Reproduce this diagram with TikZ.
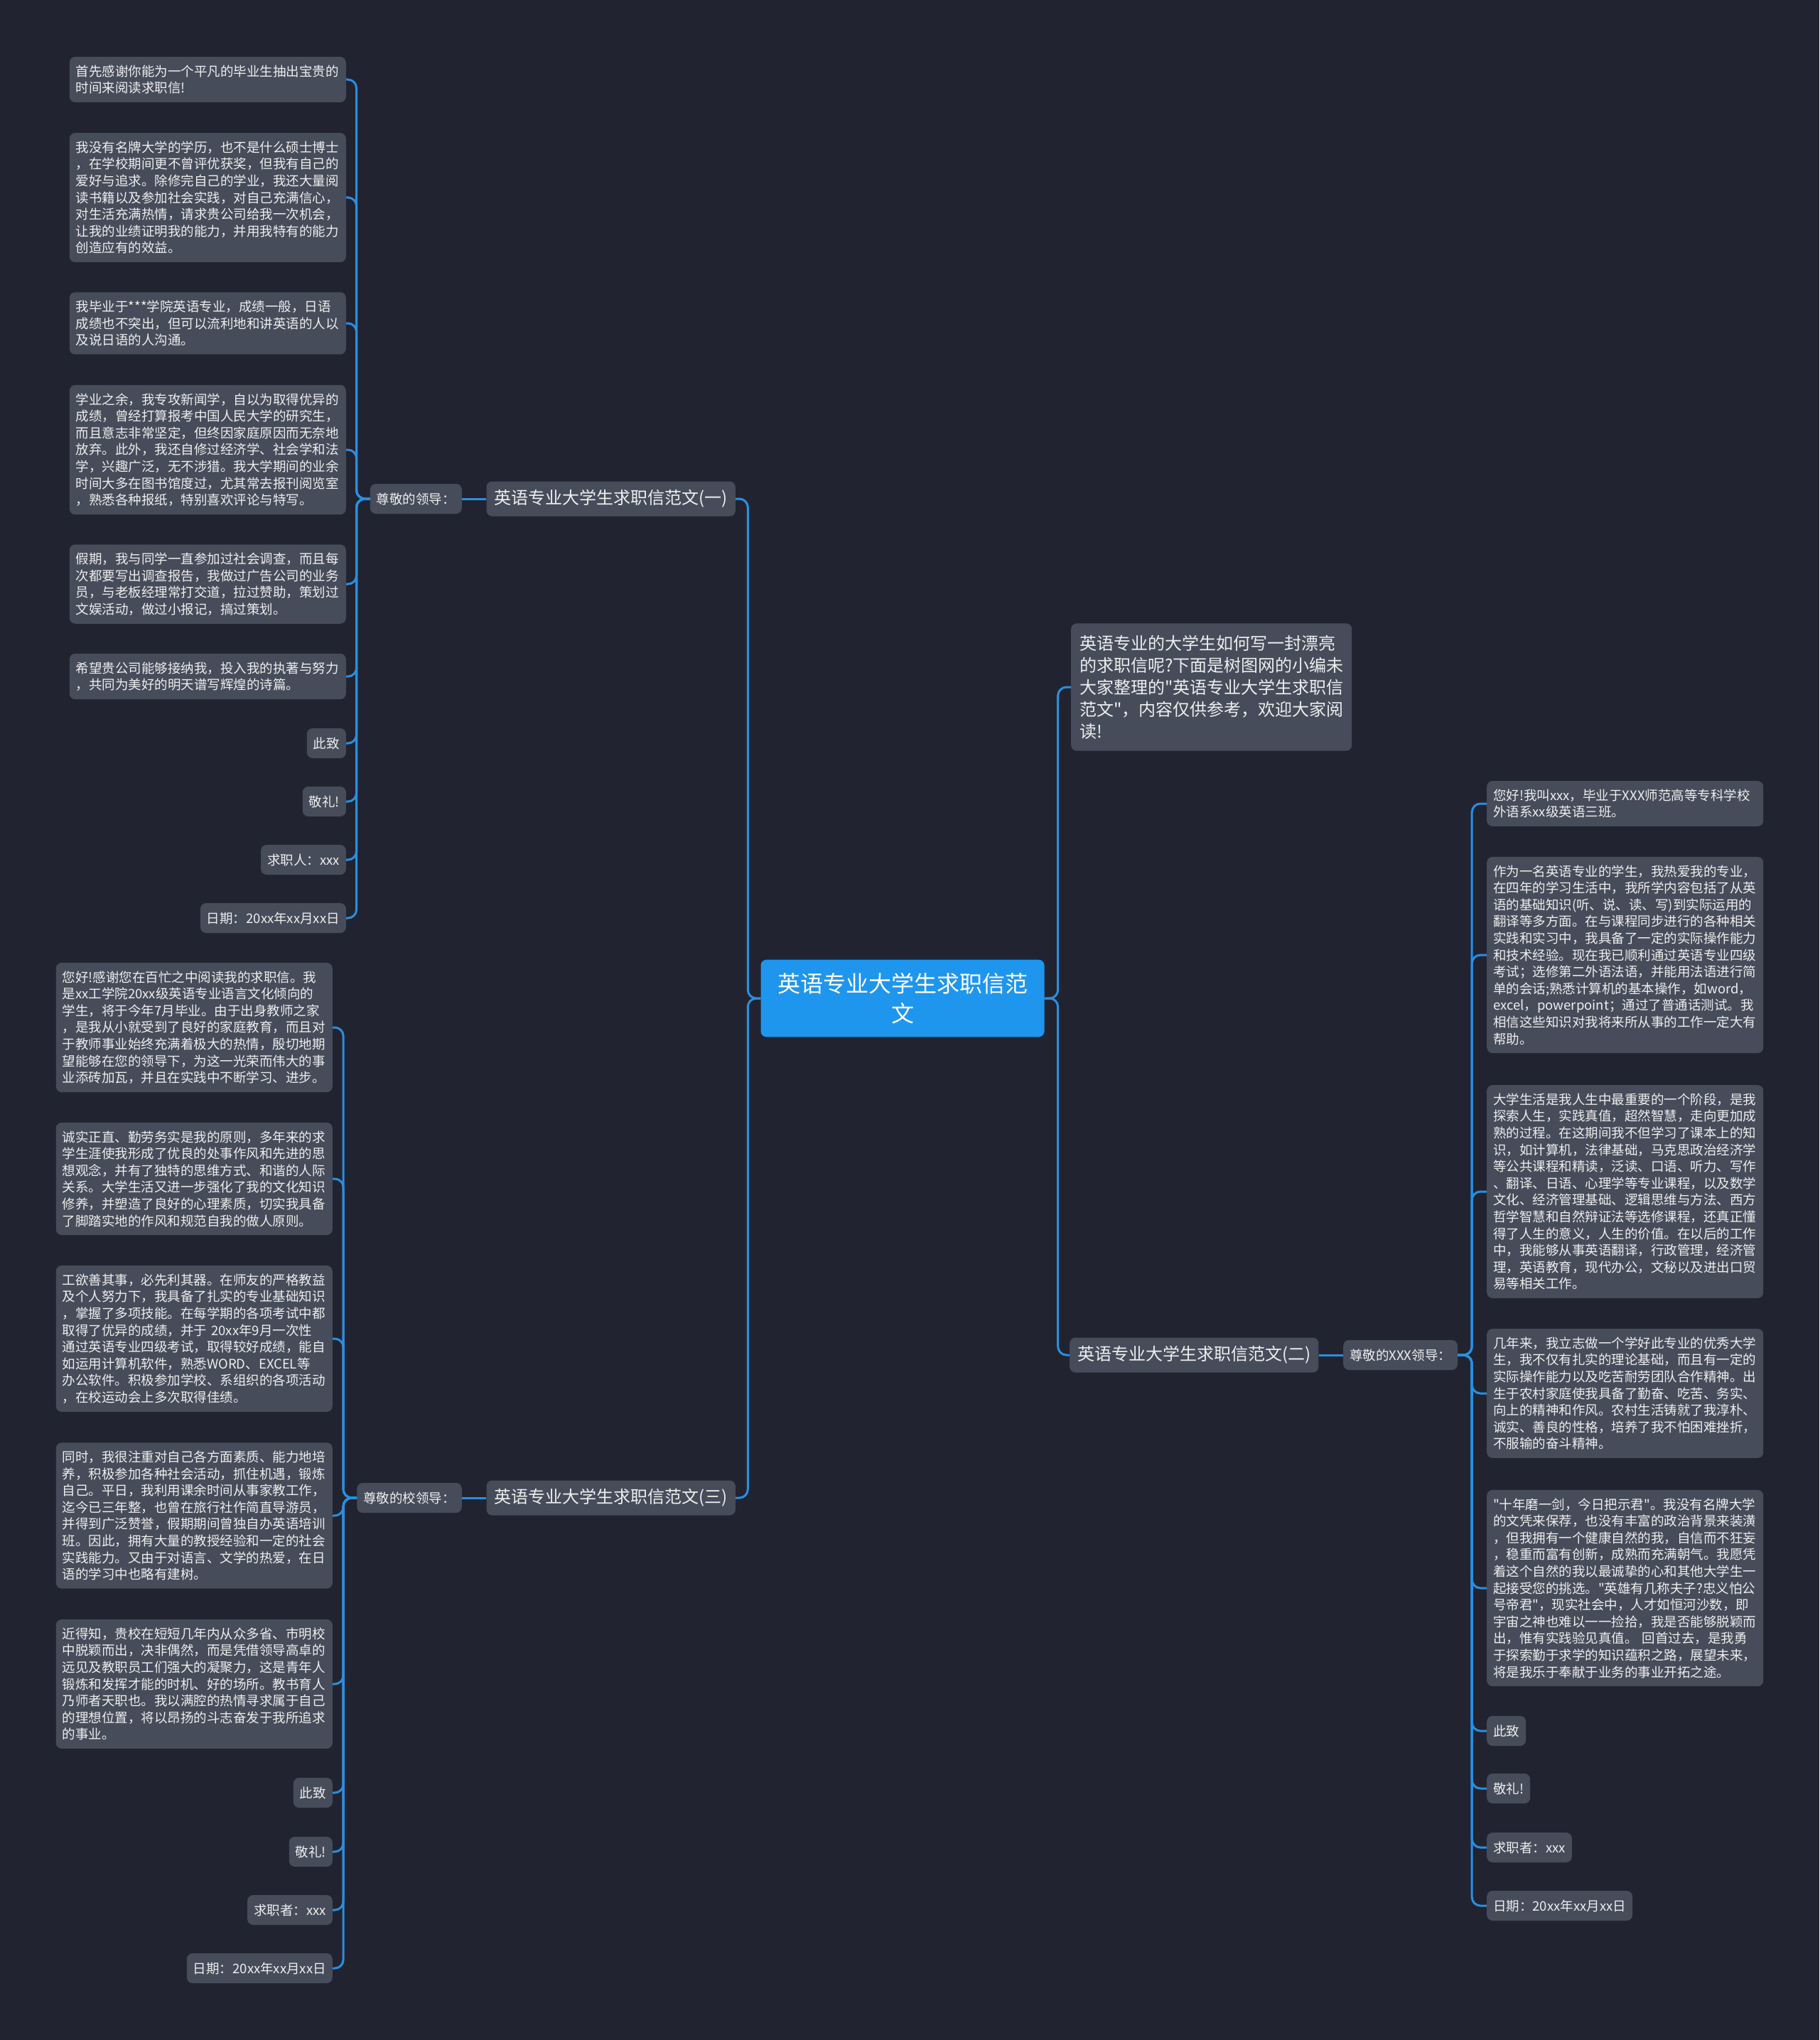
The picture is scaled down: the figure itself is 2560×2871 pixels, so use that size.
\documentclass[tikz,border=0pt]{standalone}
\usepackage{fontspec}
\setmainfont{Noto Sans CJK SC}[Ligatures=TeXOff]
\usetikzlibrary{positioning}
\definecolor{BG}{HTML}{212430}
\definecolor{BOX}{HTML}{474C5B}
\definecolor{ROOT}{HTML}{1E96EE}
\definecolor{LINK}{HTML}{2A8FE0}
\definecolor{TXT}{HTML}{EEEEEE}

\tikzset{
  boxbase/.style={fill=BOX, rounded corners=8pt, text=TXT, inner sep=0pt},
  leafbox/.style={boxbase, text width=371pt, inner xsep=9pt, inner ysep=11.5pt,
    align=left, font=\fontsize{18.5}{23.6}\selectfont},
  tagbox/.style={boxbase, inner xsep=9pt, minimum height=42pt,
    font=\fontsize{18.5}{23.6}\selectfont},
  topicbox/.style={boxbase, inner xsep=11pt, minimum height=49pt,
    font=\fontsize{24}{31}\selectfont},
  introbox/.style={boxbase, text width=371pt, inner xsep=12pt, inner ysep=16.5pt,
    align=left, font=\fontsize{24}{31}\selectfont},
  rootbox/.style={fill=ROOT, rounded corners=8pt, text=white, inner xsep=23.5pt,
    inner ysep=18.5pt, text width=352pt, align=center,
    font=\fontsize{32}{42}\selectfont},
  linkline/.style={draw=LINK, line width=3pt, rounded corners=12pt},
}

\begin{document}
\begin{tikzpicture}[x=1pt, y=-1pt]
  \fill[BG] (0,0) rectangle (2560,2871);

  % centre
  \node[rootbox] (root) at (1270,1405) {英语专业大学生求职信范\\文};

  % branch (一)
  \node[topicbox, anchor=east] (b1) at (1035,702) {英语专业大学生求职信范文(一)};
  \node[tagbox, anchor=east] (lead1) at (650,702) {尊敬的领导：};

  \node[leafbox, anchor=east] (one1) at (487,112) {首先感谢你能为一个平凡的毕业生抽出宝贵的\\时间来阅读求职信!};
  \node[leafbox, anchor=east] (one2) at (487,278) {我没有名牌大学的学历，也不是什么硕士博士\\，在学校期间更不曾评优获奖，但我有自己的\\爱好与追求。除修完自己的学业，我还大量阅\\读书籍以及参加社会实践，对自己充满信心，\\对生活充满热情，请求贵公司给我一次机会，\\让我的业绩证明我的能力，并用我特有的能力\\创造应有的效益。};
  \node[leafbox, anchor=east] (one3) at (487,455) {我毕业于***学院英语专业，成绩一般，日语\\成绩也不突出，但可以流利地和讲英语的人以\\及说日语的人沟通。};
  \node[leafbox, anchor=east] (one4) at (487,633) {学业之余，我专攻新闻学，自以为取得优异的\\成绩，曾经打算报考中国人民大学的研究生，\\而且意志非常坚定，但终因家庭原因而无奈地\\放弃。此外，我还自修过经济学、社会学和法\\学，兴趣广泛，无不涉猎。我大学期间的业余\\时间大多在图书馆度过，尤其常去报刊阅览室\\，熟悉各种报纸，特别喜欢评论与特写。};
  \node[leafbox, anchor=east] (one5) at (487,822) {假期，我与同学一直参加过社会调查，而且每\\次都要写出调查报告，我做过广告公司的业务\\员，与老板经理常打交道，拉过赞助，策划过\\文娱活动，做过小报记，搞过策划。};
  \node[leafbox, anchor=east] (one6) at (487,952) {希望贵公司能够接纳我，投入我的执著与努力\\，共同为美好的明天谱写辉煌的诗篇。};
  \node[tagbox, anchor=east] (one7) at (487,1046) {此致};
  \node[tagbox, anchor=east] (one8) at (487,1128) {敬礼!};
  \node[tagbox, anchor=east] (one9) at (487,1210) {求职人：xxx};
  \node[tagbox, anchor=east] (one10) at (487,1292) {日期：20xx年xx月xx日};

  % branch (三)
  \node[topicbox, anchor=east] (b3) at (1035,2108) {英语专业大学生求职信范文(三)};
  \node[tagbox, anchor=east] (lead3) at (650,2108) {尊敬的校领导：};

  \node[leafbox, anchor=east] (three1) at (468,1446) {您好!感谢您在百忙之中阅读我的求职信。我\\是xx工学院20xx级英语专业语言文化倾向的\\学生，将于今年7月毕业。由于出身教师之家\\，是我从小就受到了良好的家庭教育，而且对\\于教师事业始终充满着极大的热情，殷切地期\\望能够在您的领导下，为这一光荣而伟大的事\\业添砖加瓦，并且在实践中不断学习、进步。};
  \node[leafbox, anchor=east] (three2) at (468,1659) {诚实正直、勤劳务实是我的原则，多年来的求\\学生涯使我形成了优良的处事作风和先进的思\\想观念，并有了独特的思维方式、和谐的人际\\关系。大学生活又进一步强化了我的文化知识\\修养，并塑造了良好的心理素质，切实我具备\\了脚踏实地的作风和规范自我的做人原则。};
  \node[leafbox, anchor=east] (three3) at (468,1884) {工欲善其事，必先利其器。在师友的严格教益\\及个人努力下，我具备了扎实的专业基础知识\\，掌握了多项技能。在每学期的各项考试中都\\取得了优异的成绩，并于~20xx年9月一次性\\通过英语专业四级考试，取得较好成绩，能自\\如运用计算机软件，熟悉WORD、EXCEL等\\办公软件。积极参加学校、系组织的各项活动\\，在校运动会上多次取得佳绩。};
  \node[leafbox, anchor=east] (three4) at (468,2133) {同时，我很注重对自己各方面素质、能力地培\\养，积极参加各种社会活动，抓住机遇，锻炼\\自己。平日，我利用课余时间从事家教工作，\\迄今已三年整，也曾在旅行社作简直导游员，\\并得到广泛赞誉，假期期间曾独自办英语培训\\班。因此，拥有大量的教授经验和一定的社会\\实践能力。又由于对语言、文学的热爱，在日\\语的学习中也略有建树。};
  \node[leafbox, anchor=east] (three5) at (468,2370) {近得知，贵校在短短几年内从众多省、市明校\\中脱颖而出，决非偶然，而是凭借领导高卓的\\远见及教职员工们强大的凝聚力，这是青年人\\锻炼和发挥才能的时机、好的场所。教书育人\\乃师者天职也。我以满腔的热情寻求属于自己\\的理想位置，将以昂扬的斗志奋发于我所追求\\的事业。};
  \node[tagbox, anchor=east] (three6) at (468,2523) {此致};
  \node[tagbox, anchor=east] (three7) at (468,2606) {敬礼!};
  \node[tagbox, anchor=east] (three8) at (468,2688) {求职者：xxx};
  \node[tagbox, anchor=east] (three9) at (468,2770) {日期：20xx年xx月xx日};

  % right side
  \node[introbox, anchor=west] (intro) at (1507,967) {英语专业的大学生如何写一封漂亮\\的求职信呢?下面是树图网的小编未\\大家整理的"英语专业大学生求职信\\范文"，内容仅供参考，欢迎大家阅\\读!};

  \node[topicbox, anchor=west] (b2) at (1505,1907) {英语专业大学生求职信范文(二)};
  \node[tagbox, anchor=west] (lead2) at (1890,1907) {尊敬的XXX领导：};

  \node[leafbox, anchor=west] (two1) at (2092,1131) {您好!我叫xxx，毕业于XXX师范高等专科学校\\外语系xx级英语三班。};
  \node[leafbox, anchor=west] (two2) at (2092,1344) {作为一名英语专业的学生，我热爱我的专业，\\在四年的学习生活中，我所学内容包括了从英\\语的基础知识(听、说、读、写)到实际运用的\\翻译等多方面。在与课程同步进行的各种相关\\实践和实习中，我具备了一定的实际操作能力\\和技术经验。现在我已顺利通过英语专业四级\\考试；选修第二外语法语，并能用法语进行简\\单的会话;熟悉计算机的基本操作，如word，\\excel，powerpoint；通过了普通话测试。我\\相信这些知识对我将来所从事的工作一定大有\\帮助。};
  \node[leafbox, anchor=west] (two3) at (2092,1677) {大学生活是我人生中最重要的一个阶段，是我\\探索人生，实践真值，超然智慧，走向更加成\\熟的过程。在这期间我不但学习了课本上的知\\识，如计算机，法律基础，马克思政治经济学\\等公共课程和精读，泛读、口语、听力、写作\\、翻译、日语、心理学等专业课程，以及数学\\文化、经济管理基础、逻辑思维与方法、西方\\哲学智慧和自然辩证法等选修课程，还真正懂\\得了人生的意义，人生的价值。在以后的工作\\中，我能够从事英语翻译，行政管理，经济管\\理，英语教育，现代办公，文秘以及进出口贸\\易等相关工作。};
  \node[leafbox, anchor=west] (two4) at (2092,1961) {几年来，我立志做一个学好此专业的优秀大学\\生，我不仅有扎实的理论基础，而且有一定的\\实际操作能力以及吃苦耐劳团队合作精神。出\\生于农村家庭使我具备了勤奋、吃苦、务实、\\向上的精神和作风。农村生活铸就了我淳朴、\\诚实、善良的性格，培养了我不怕困难挫折，\\不服输的奋斗精神。};
  \node[leafbox, anchor=west] (two5) at (2092,2235) {"十年磨一剑，今日把示君"。我没有名牌大学\\的文凭来保荐，也没有丰富的政治背景来装潢\\，但我拥有一个健康自然的我，自信而不狂妄\\，稳重而富有创新，成熟而充满朝气。我愿凭\\着这个自然的我以最诚挚的心和其他大学生一\\起接受您的挑选。"英雄有几称夫子?忠义怕公\\号帝君"，现实社会中，人才如恒河沙数，即\\宇宙之神也难以一一捡拾，我是否能够脱颖而\\出，惟有实践验见真值。~回首过去，是我勇\\于探索勤于求学的知识蕴积之路，展望未来，\\将是我乐于奉献于业务的事业开拓之途。};
  \node[tagbox, anchor=west] (two6) at (2092,2436) {此致};
  \node[tagbox, anchor=west] (two7) at (2092,2517) {敬礼!};
  \node[tagbox, anchor=west] (two8) at (2092,2600) {求职者：xxx};
  \node[tagbox, anchor=west] (two9) at (2092,2682) {日期：20xx年xx月xx日};

  % links
  \draw[linkline] (root.west) -- ++(-18,0) |- (b1.east);
  \draw[linkline] (root.west) -- ++(-18,0) |- (b3.east);
  \draw[linkline] (root.east) -- ++(19,0) |- (intro.west);
  \draw[linkline] (root.east) -- ++(19,0) |- (b2.west);
  \draw[linkline] (b1.west) -- (lead1.east);
  \draw[linkline] (b3.west) -- (lead3.east);
  \draw[linkline] (b2.east) -- (lead2.west);
  \foreach \i in {1,...,10}
    \draw[linkline] (lead1.west) -- ++(-19,0) |- (one\i.east);
  \foreach \i in {1,...,9}
    \draw[linkline] (lead3.west) -- ++(-19,0) |- (three\i.east);
  \foreach \i in {1,...,9}
    \draw[linkline] (lead2.east) -- ++(20,0) |- (two\i.west);
\end{tikzpicture}
\end{document}
